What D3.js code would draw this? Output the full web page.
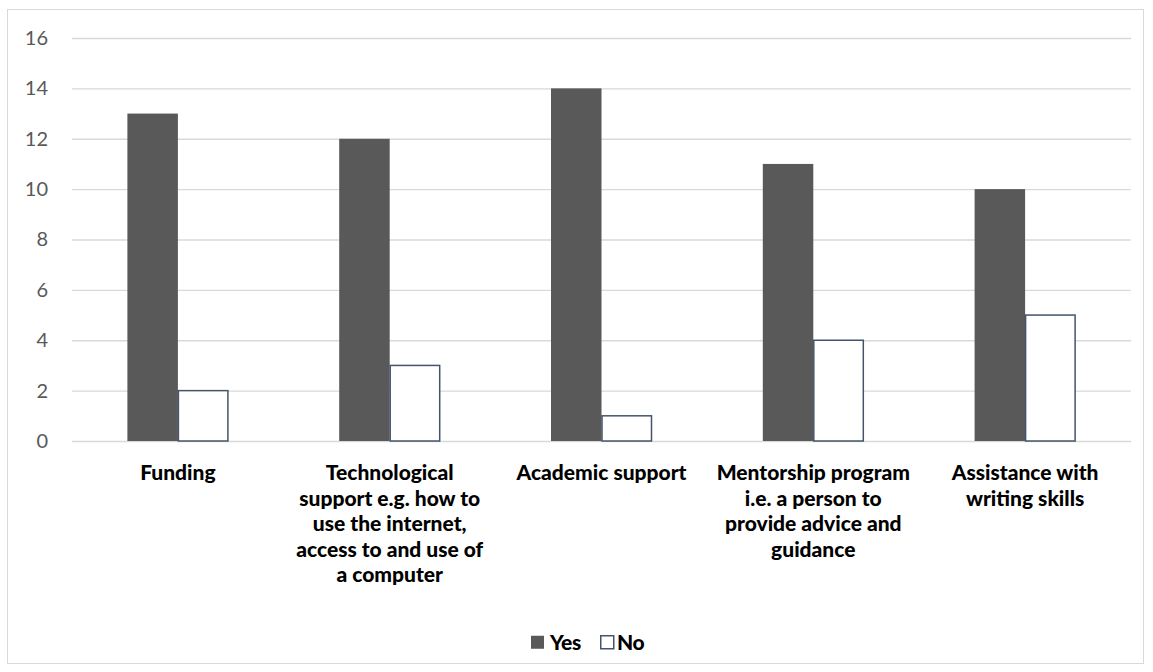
<html>
<head>
  <style>
    body { margin: 0; background: white; font-family: Lato, "Open Sans", sans-serif; }
    svg { display: block; }
  </style>
  <script src="https://d3js.org/d3.v7.min.js"></script>
</head>
<body>
  <svg id="chart"></svg>
</body>
<script>
  // categories (line breaks as in the original)
  let categories = [
    "Funding",
    "Technological\nsupport e.g. how to\nuse the internet,\naccess to and use of\na computer",
    "Academic support",
    "Mentorship program\ni.e. a person to\nprovide advice and\nguidance",
    "Assistance with\nwriting skills"
  ];
  let yesValues = [13, 12, 14, 11, 10];
  let noValues = [2, 3, 1, 4, 5];
  let seriesNames = ["Yes", "No"];
  let yTicks = [0, 2, 4, 6, 8, 10, 12, 14, 16];

  let width = 1153, height = 672;
  let margin = { top: 38, bottom: 231, left: 72, right: 22 };
  let bodyWidth = width - margin.left - margin.right;
  let bodyHeight = height - margin.top - margin.bottom;

  let svg = d3.select("#chart").attr("width", width).attr("height", height);

  // outer chart border
  svg.append("rect")
    .attr("x", 7.5).attr("y", 9.5)
    .attr("width", 1136).attr("height", 654)
    .attr("fill", "white")
    .attr("stroke", "#d9d9d9");

  let x0 = d3.scaleBand().domain(categories).range([0, bodyWidth]);
  let x1 = d3.scaleBand().domain(seriesNames).range([0, 101]).padding(0);
  let y = d3.scaleLinear().domain([0, 16]).range([bodyHeight, 0]);

  let body = svg.append("g").attr("transform", `translate(${margin.left},${margin.top})`);

  // gridlines
  body.selectAll(".grid").data(yTicks).enter().append("line")
    .attr("x1", 0).attr("x2", bodyWidth)
    .attr("y1", d => y(d) + 0.5).attr("y2", d => y(d) + 0.5)
    .attr("stroke", "#d9d9d9").attr("stroke-width", 1.3);

  // y axis labels
  let axisY = d3.axisLeft(y).tickValues(yTicks).tickSize(0).tickPadding(24);
  let gy = body.append("g").call(axisY);
  gy.select(".domain").remove();
  gy.selectAll("text")
    .attr("fill", "#595959")
    .style("font-family", "Lato, sans-serif")
    .style("font-size", "20px");

  let rows = categories.map((c, i) => ({ cat: c, vals: [yesValues[i], noValues[i]] }));
  let groups = body.selectAll(".grp").data(rows).enter().append("g")
    .attr("transform", d => `translate(${x0(d.cat) + x0.bandwidth() / 2 - 50.5},0)`);

  groups.selectAll("rect")
    .data(d => d.vals.map((v, j) => ({ name: seriesNames[j], v })))
    .enter().append("rect")
    .attr("x", d => x1(d.name) + (d.name === "No" ? 0.5 : 0))
    .attr("width", d => x1.bandwidth() - (d.name === "No" ? 1 : 0))
    .attr("y", d => y(d.v))
    .attr("height", d => y(0) - y(d.v))
    .attr("fill", d => d.name === "Yes" ? "#595959" : "white")
    .attr("stroke", d => d.name === "Yes" ? "none" : "#44546a")
    .attr("stroke-width", 1.5);

  // category labels
  let labels = body.selectAll(".cat").data(categories).enter().append("text")
    .attr("x", d => x0(d) + x0.bandwidth() / 2)
    .attr("y", bodyHeight + 39)
    .attr("text-anchor", "middle")
    .style("font-family", "Lato, sans-serif")
    .style("font-weight", "900")
    .style("font-size", "21px")
    .attr("fill", "black");
  labels.selectAll("tspan")
    .data(d => d.split("\n"))
    .enter().append("tspan")
    .attr("x", function () { return d3.select(this.parentNode).attr("x"); })
    .attr("dy", (d, i) => i === 0 ? 0 : 25.5)
    .text(d => d);

  // legend
  let legend = svg.append("g").attr("transform", "translate(531,635)");
  let legendItems = [
    { name: "Yes", x: 0, fill: "#595959", stroke: "none", tx: 19 },
    { name: "No", x: 69, fill: "white", stroke: "#44546a", tx: 86 }
  ];
  legendItems.forEach(d => {
    legend.append("rect")
      .attr("x", d.x + (d.stroke === "none" ? 0 : 0.75)).attr("y", 0.75)
      .attr("width", 13).attr("height", 13)
      .attr("fill", d.fill).attr("stroke", d.stroke).attr("stroke-width", 1.5);
    legend.append("text")
      .attr("x", d.tx).attr("y", 14.5)
      .style("font-family", "Lato, sans-serif")
      .style("font-weight", "900")
      .style("font-size", "21px")
      .style("letter-spacing", "-0.3px")
      .text(d.name);
  });
</script>
</html>
